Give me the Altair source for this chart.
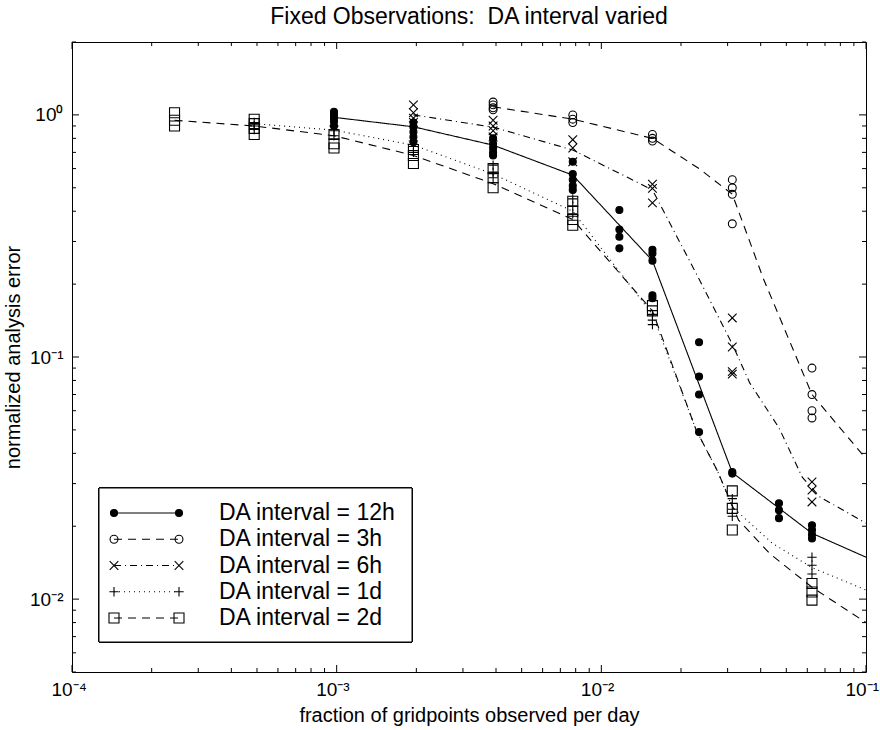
import altair as alt
import pandas as pd

# ---------------- data ----------------
series = ["12h", "3h", "6h", "1d", "2d"]
legend_labels = ["DA interval = 12h", "DA interval = 3h", "DA interval = 6h",
                 "DA interval = 1d", "DA interval = 2d"]

# observed points (x = fraction of gridpoints observed per day)
x_12h = [0.000977, 0.00195, 0.0039, 0.0078, 0.0117, 0.0156, 0.0234, 0.03125, 0.0469, 0.0625]
y_12h = [[1.03, 1.0, 0.97, 0.94, 0.9], [0.93, 0.89, 0.85, 0.81, 0.77],
         [0.8, 0.76, 0.73, 0.7, 0.68], [0.64, 0.57, 0.54, 0.51, 0.49],
         [0.405, 0.336, 0.314, 0.281], [0.277, 0.268, 0.25, 0.18, 0.175],
         [0.115, 0.083, 0.07, 0.049], [0.0335, 0.033],
         [0.0249, 0.0233, 0.0216], [0.0202, 0.0193, 0.0185, 0.0178]]

x_3h = [0.0039, 0.0078, 0.0156, 0.03125, 0.0625]
y_3h = [[1.13, 1.1, 1.07, 1.05], [1.0, 0.96, 0.93], [0.83, 0.8, 0.78],
        [0.54, 0.5, 0.47, 0.355], [0.09, 0.07, 0.06, 0.056]]

x_6h = [0.00195, 0.0039, 0.0078, 0.0156, 0.03125, 0.0625]
y_6h = [[1.1, 1.02, 0.97, 0.93], [0.95, 0.9, 0.86, 0.81], [0.79, 0.73, 0.64],
        [0.517, 0.497, 0.433], [0.145, 0.11, 0.087, 0.085], [0.0305, 0.0282, 0.0252]]

x_1d = [0.000488, 0.000977, 0.00195, 0.0039, 0.0078, 0.0156, 0.03125, 0.0625]
y_1d = [[0.93, 0.9, 0.87], [0.9, 0.86, 0.82], [0.78, 0.74, 0.7], [0.62, 0.58, 0.55],
        [0.45, 0.42, 0.39], [0.15, 0.142, 0.136], [0.026, 0.0235, 0.022],
        [0.0149, 0.0138, 0.0127]]

x_2d = [0.000244, 0.000488, 0.000977, 0.00195, 0.0039, 0.0078, 0.0156, 0.03125, 0.0625]
y_2d = [[1.02, 0.95, 0.9], [0.96, 0.92, 0.88, 0.83], [0.83, 0.76, 0.73],
        [0.72, 0.68, 0.63], [0.6, 0.55, 0.5], [0.44, 0.4, 0.37, 0.35],
        [0.163, 0.155], [0.028, 0.0237, 0.0193], [0.0116, 0.0107, 0.0099]]

# fitted curves
lx_12h = [0.000977, 0.00195, 0.0039, 0.0078, 0.0156, 0.03125, 0.0625, 0.1]
ly_12h = [0.977, 0.893, 0.75, 0.564, 0.25, 0.0333, 0.0187, 0.0149]

lx_3h = [0.0039, 0.0078, 0.0156, 0.0234, 0.03125, 0.041, 0.0625, 0.1]
ly_3h = [1.08, 0.96, 0.8, 0.6, 0.47, 0.21, 0.07, 0.038]

lx_6h = [0.00195, 0.0039, 0.0078, 0.0156, 0.0234, 0.03125, 0.0364, 0.0469, 0.0575, 0.067, 0.1]
ly_6h = [1.0, 0.89, 0.716, 0.49, 0.21, 0.113, 0.078, 0.051, 0.0318, 0.0264, 0.0206]

lx_1d = [0.000488, 0.000977, 0.00195, 0.0039, 0.0078, 0.0156, 0.0228, 0.0274, 0.03125, 0.0443, 0.0625, 0.1]
ly_1d = [0.92, 0.865, 0.75, 0.57, 0.40, 0.15, 0.05, 0.034, 0.024, 0.017, 0.0135, 0.0109]

lx_2d = [0.000244, 0.000488, 0.000977, 0.00195, 0.0039, 0.0078, 0.0156, 0.0228, 0.0274, 0.033, 0.0433, 0.0625, 0.1]
ly_2d = [0.95, 0.9, 0.82, 0.68, 0.52, 0.37, 0.155, 0.05, 0.034, 0.0212, 0.0154, 0.0112, 0.0080]

x_major = [1e-4, 1e-3, 1e-2, 1e-1]
y_major = [1e-2, 1e-1, 1.0]

# ---------------- tables ----------------
pts = []
for s, xs_, ys_ in zip(series, [x_12h, x_3h, x_6h, x_1d, x_2d], [y_12h, y_3h, y_6h, y_1d, y_2d]):
    for xv, yl in zip(xs_, ys_):
        for yv in yl:
            pts.append({"series": s, "x": xv, "y": yv})
df_pts = pd.DataFrame(pts)

lines = []
for s, lx, ly in zip(series, [lx_12h, lx_3h, lx_6h, lx_1d, lx_2d], [ly_12h, ly_3h, ly_6h, ly_1d, ly_2d]):
    for i, (xv, yv) in enumerate(zip(lx, ly)):
        lines.append({"series": s, "x": xv, "y": yv, "i": i})
df_lines = pd.DataFrame(lines)

x_minor = [k * 10.0 ** e for e in (-4, -3, -2) for k in range(2, 10)]
y_minor = [k * 10.0 ** e for e in (-3, -2, -1, 0) for k in range(2, 10)
           if 0.005 <= k * 10.0 ** e <= 2.0 and k * 10.0 ** e not in y_major]
df_xmaj = pd.DataFrame({"x": x_major})
df_xmin = pd.DataFrame({"x": x_minor})
df_ymaj = pd.DataFrame({"y": y_major})
df_ymin = pd.DataFrame({"y": y_minor})

df_leg = pd.DataFrame({"series": series, "label": legend_labels})

# ---------------- chart ----------------
W, H = 794, 630
FONT = "Liberation Sans"
xs = alt.Scale(type="log", domain=[1e-4, 1e-1])
ys = alt.Scale(type="log", domain=[0.005, 2.0])

XPATH = "M-1,-1L1,1M-1,1L1,-1"
PPATH = "M-1,0L1,0M0,-1L0,1"
shape_scale = alt.Scale(domain=series, range=["circle", "circle", XPATH, PPATH, "square"])
fill_scale = alt.Scale(domain=series, range=["black", "transparent", "transparent", "transparent", "transparent"])
size_scale = alt.Scale(domain=series, range=[49, 100, 64, 100, 56])
lsize_scale = alt.Scale(domain=series, range=[25, 49, 36, 64, 36])
dash_scale = alt.Scale(domain=series, range=[[1, 0], [8, 6], [7, 4, 1, 4], [1, 4], [8, 6]])

x_axis = alt.Axis(values=x_major, ticks=False, domain=False, grid=False,
                  labelExpr="datum.value < 0.0005 ? '10⁻⁴' : datum.value < 0.005 ? '10⁻³' : datum.value < 0.05 ? '10⁻²' : '10⁻¹'",
                  labelFont=FONT, labelFontSize=19, labelColor="black", labelPadding=8,
                  labelAlign="left", labelOffset=-21,
                  labelFlush=False, labelOverlap=False,
                  title="fraction of gridpoints observed per day", titleFont=FONT,
                  titleFontSize=20, titleFontWeight="normal", titleColor="black", titlePadding=6)
y_axis = alt.Axis(values=y_major, ticks=False, domain=False, grid=False,
                  labelExpr="datum.value >= 0.5 ? '10⁰' : datum.value >= 0.05 ? '10⁻¹' : '10⁻²'",
                  labelFont=FONT, labelFontSize=19, labelColor="black", labelPadding=9,
                  labelFlush=False, labelOverlap=False,
                  title="normalized analysis error", titleFont=FONT, titleFontSize=20,
                  titleFontWeight="normal", titleColor="black", titlePadding=6)

X = alt.X("x:Q", scale=xs, axis=x_axis)

line_layer = alt.Chart(df_lines).mark_line(color="black", strokeWidth=1.1).encode(
    x=X,
    y=alt.Y("y:Q", scale=ys, axis=y_axis),
    strokeDash=alt.StrokeDash("series:N", scale=dash_scale, legend=None),
    detail="series:N",
    order="i:Q",
)

point_layer = alt.Chart(df_pts).mark_point(stroke="black", strokeWidth=1.1, opacity=1, fillOpacity=1).encode(
    x=X,
    y=alt.Y("y:Q", scale=ys, axis=None),
    shape=alt.Shape("series:N", scale=shape_scale, legend=None),
    fill=alt.Fill("series:N", scale=fill_scale, legend=None),
    size=alt.Size("series:N", scale=size_scale, legend=None),
)

tick_layers = []
for df, L in [(df_xmaj, 7), (df_xmin, 4)]:
    tick_layers.append(alt.Chart(df).mark_rule(color="black", strokeWidth=1).encode(
        x=X, y=alt.value(H), y2=alt.value(H - L)))
    tick_layers.append(alt.Chart(df).mark_rule(color="black", strokeWidth=1).encode(
        x=X, y=alt.value(0), y2=alt.value(L)))
for df, L in [(df_ymaj, 7), (df_ymin, 4)]:
    tick_layers.append(alt.Chart(df).mark_rule(color="black", strokeWidth=1).encode(
        y=alt.Y("y:Q", scale=ys, axis=None), x=alt.value(0), x2=alt.value(L)))
    tick_layers.append(alt.Chart(df).mark_rule(color="black", strokeWidth=1).encode(
        y=alt.Y("y:Q", scale=ys, axis=None), x=alt.value(W), x2=alt.value(W - L)))

# legend (own row scale)
row_scale = alt.Scale(type="point", domain=legend_labels, range=[471, 576], padding=0)
leg_box = alt.Chart(df_leg).mark_rect(fill="white", stroke="black", strokeWidth=1).encode(
    x=alt.value(27), x2=alt.value(340), y=alt.value(446), y2=alt.value(600))
leg_lines = alt.Chart(df_leg).mark_rule(color="black", strokeWidth=1.1).encode(
    y=alt.Y("label:N", scale=row_scale, axis=None),
    x=alt.value(42), x2=alt.value(107),
    strokeDash=alt.StrokeDash("series:N", scale=dash_scale, legend=None))
leg_pts = []
for px in (42, 107):
    leg_pts.append(alt.Chart(df_leg).mark_point(stroke="black", strokeWidth=1.1, opacity=1, fillOpacity=1).encode(
        y=alt.Y("label:N", scale=row_scale, axis=None),
        x=alt.value(px),
        shape=alt.Shape("series:N", scale=shape_scale, legend=None),
        fill=alt.Fill("series:N", scale=fill_scale, legend=None),
        size=alt.Size("series:N", scale=lsize_scale, legend=None)))
leg_text = alt.Chart(df_leg).mark_text(align="left", baseline="middle", font=FONT,
                                       fontSize=23, color="black").encode(
    y=alt.Y("label:N", scale=row_scale, axis=None),
    x=alt.value(147),
    text="label:N")

chart = alt.layer(
    line_layer, point_layer, *tick_layers, leg_box, leg_lines, *leg_pts, leg_text
).resolve_scale(y="independent").properties(
    width=W, height=H,
    title=alt.Title("Fixed Observations:\u00a0 DA interval varied", font=FONT, fontSize=23,
                    fontWeight="normal", color="black", anchor="middle", offset=13),
    autosize=alt.AutoSizeParams(type="none"),
    padding={"left": 72, "top": 42, "right": 14, "bottom": 58},
    background="white",
).configure_view(stroke="black", strokeWidth=1)

chart.save("out.html", embed_options={"renderer": "svg", "actions": False})
